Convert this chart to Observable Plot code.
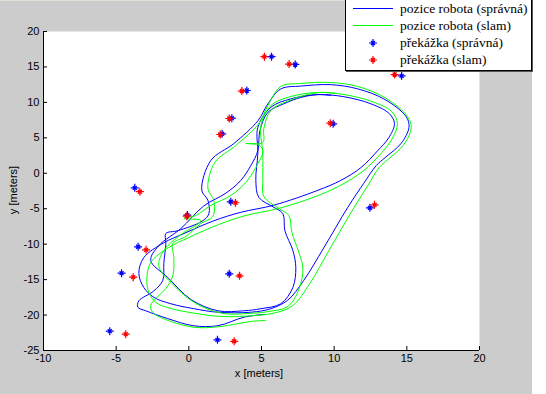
<!DOCTYPE html>
<html><head><meta charset="utf-8">
<script src="https://cdn.jsdelivr.net/npm/d3@7"></script>
<script src="https://cdn.jsdelivr.net/npm/@observablehq/plot@0.6"></script>
<style>
html,body{margin:0;padding:0;background:#fff;}
#fig{position:relative;width:546px;height:394px;overflow:hidden;background:linear-gradient(to right,#cccccc 0,#cccccc 532px,#ffffff 532px);}
#topline{position:absolute;left:0;top:0;width:532px;height:1px;background:#e4e0d8;}
#chart{position:absolute;left:0;top:0;}
.alab{position:absolute;font-family:"Liberation Sans",Arial,sans-serif;font-size:11px;color:#000;white-space:nowrap;transform:translate(-50%,-50%);}
#ylab{transform:translate(-50%,-50%) rotate(-90deg);}
#legend{position:absolute;left:345px;top:-1px;width:185px;height:70px;background:#fff;border:1px solid #000;box-shadow:1px 1px 0 #555;font-family:"Liberation Serif","Times New Roman",serif;font-size:13.5px;color:#000;}
.lrow{position:absolute;left:0;height:17px;width:185px;}
.lrow svg{position:absolute;left:0;top:0;}
.lrow span{position:absolute;left:54px;top:50%;transform:translateY(-50%);white-space:nowrap;}
</style>
</head><body>
<div id="fig"><div id="topline"></div><div id="chart"></div>
<div class="alab" id="xlab" style="left:259px;top:373px;"></div>
<div class="alab" id="ylab" style="left:13px;top:190px;"></div>
<div id="legend"></div>
</div>
<script>
// ---- data ----
const xTicks = [-10, -5, 0, 5, 10, 15, 20];
const yTicks = [-25, -20, -15, -10, -5, 0, 5, 10, 15, 20];
const xLabel = "x [meters]";
const yLabel = "y [meters]";
const legendLabels = ["pozice robota (správná)", "pozice robota (slam)", "překážka (správná)", "překážka (slam)"];

const obstacleTrueX = [5.69, 7.32, 3.99, 2.96, 2.29, -3.72, 2.89, -0.1, -3.49, -4.63, 2.78, -5.44, 1.97, 9.93, 14.64, 12.46];
const obstacleTrueY = [16.45, 15.35, 11.68, 7.77, 5.57, -2.05, -4.02, -5.9, -10.37, -14.09, -14.18, -22.27, -23.5, 6.98, 13.75, -4.87];
const obstacleSlamX = [5.2, 6.9, 3.65, 2.78, 2.16, -3.37, 3.21, -0.14, -2.94, -3.83, 3.49, -4.34, 3.12, 9.73, 14.16, 12.78];
const obstacleSlamY = [16.45, 15.4, 11.6, 7.73, 5.47, -2.6, -4.16, -6.05, -10.8, -14.65, -14.46, -22.7, -23.7, 7.07, 13.93, -4.45];

const pathTrue = [
[5.2,-19.9],[3.8,-20.3],[2.0,-21.5],[0.3,-21.5],[-1.45,-20.5],[-2.96,-19.4],[-3.51,-18.9],[-3.44,-18.0],[-2.41,-16.6],[-1.79,-15.1],[-1.72,-12.7],[-1.58,-9.9],[-1.58,-8.5],[-0.76,-8.1],[0.96,-6.7],[1.38,-5.7],[1.31,-3.8],[0.89,-2.4],[1.51,1.8],[3.1,4.2],[4.75,7.4],[5.44,9.8],[6.33,11.9],[7.71,12.3],[9.77,12.5],[11.63,11.9],[13.5,10.4],[14.95,8.0],[15.15,6.5],[14.6,4.2],[13.5,2.2],[12.9,1.1],[12.04,-1.4],[10.94,-4.8],[9.29,-10.5],[7.91,-15.1],[6.81,-17.9],[5.64,-19.1],
[4.27,-19.6],[2.0,-19.6],[0.34,-19.1],[-1.24,-18.4],[-2.41,-17.5],[-3.1,-16.1],[-3.44,-14.1],[-3.1,-11.9],[-1.72,-9.8],[-0.34,-8.5],[1.72,-6.7],[3.58,-5.5],[5.85,-4.5],[8.88,-2.4],[10.46,-1.0],[11.84,0.8],[13.0,3.2],[13.75,5.0],[14.15,7.0],[13.8,8.4],[12.53,9.8],[10.67,10.8],[8.88,11.1],[7.02,10.5],[5.64,9.3],[4.75,6.5],[4.75,2.8],[4.61,-1.0],[4.82,-3.4],[5.85,-4.8],[6.47,-5.7],[6.61,-8.1],[7.16,-10.9],[7.36,-13.3],[7.16,-16.1],[6.33,-18.4],[4.96,-19.1],
[3.79,-19.4],[2.0,-19.4],[0.14,-17.8],[-1.45,-14.7],[-2.62,-12.3],[-2.06,-10.2],[-0.55,-7.8],[1.03,-4.6],[2.55,-2.8],[3.58,-1.0],[4.27,1.1],[4.75,3.2],[4.89,6.0],[5.44,8.6],[6.54,9.8],[7.71,10.7],[8.88,11.1],[9.77,10.97]
];

const pathSlam = [
[5.30,-20.76],[4.27,-20.90],[2.20,-21.61],[0.48,-21.75],[-1.24,-20.90],[-2.48,-19.63],[-2.62,-18.65],[-2.27,-17.66],[-1.58,-16.25],[-1.10,-14.41],[-1.03,-12.01],[-1.10,-9.90],[-0.21,-8.91],[0.83,-7.08],[1.65,-6.09],[1.72,-3.84],[1.31,-2.14],[1.79,1.52],[3.23,3.92],[4.82,7.02],[5.44,9.56],[6.33,12.24],[7.71,12.67],[9.77,12.81],[11.63,12.24],[13.55,10.6],[15.05,8.0],[15.3,6.46],[14.8,4.06],[13.7,1.95],[13.1,0.82],[12.32,-1.72],[11.29,-5.10],[9.64,-10.89],[8.33,-15.54],[7.16,-18.65],[6.06,-19.63],
[4.61,-20.06],[2.20,-20.20],[0.48,-19.77],[-1.24,-19.07],[-2.27,-18.22],[-2.75,-16.81],[-2.89,-14.84],[-2.62,-12.58],[-1.38,-10.47],[0,-9.06],[2.06,-7.22],[3.92,-5.95],[6.19,-4.96],[9.08,-2.99],[10.67,-1.44],[12.04,0.39],[13.28,2.93],[14.0,4.91],[14.35,7.02],[13.95,8.72],[12.59,10.13],[10.67,11.11],[8.88,11.40],[7.02,10.83],[5.64,9.56],[4.96,6.74],[5.09,2.79],[5.09,-1.02],[5.16,-3.27],[6.19,-4.96],[6.88,-5.95],[7.09,-8.35],[7.57,-11.17],[7.85,-13.42],[7.57,-16.39],[6.81,-18.79],[5.51,-19.49],
[4.13,-19.77],[2.34,-19.77],[0.48,-18.36],[-1.10,-15.68],[-2.06,-13.15],[-1.72,-10.89],[-0.34,-8.35],[0.14,-7.79],[0.83,-6.66],[-0.34,-6.37],[0.48,-5.95],[1.51,-4.54],[2.89,-3.13],[3.92,-1.30],[4.61,0.82],[5.09,3.22],[4.75,4.06],[3.92,4.20],[5.09,4.34],[5.16,6.32],[5.64,8.86],[6.74,10.13],[7.91,10.97],[9.08,11.40],[10.12,11.26]
];

// ---- drawing ----
const BLUE = "#0000ff", GREEN = "#00ff00", RED = "#ff0000";
const W = 546, H = 394;
const mL = 43, mR = 67, mT = 31, mB = 44;
const pxPerY = (H - mT - mB) / (yTicks[yTicks.length-1] - yTicks[0]);
const pxPerX = (W - mL - mR) / (xTicks[xTicks.length-1] - xTicks[0]);
const tickLen = 4;

const star = {
  draw(ctx, size) {
    const r = Math.sqrt(size / Math.PI);
    const d = r * 0.5;
    ctx.moveTo(-r, 0); ctx.lineTo(r, 0);
    ctx.moveTo(0, -r); ctx.lineTo(0, r);
    ctx.moveTo(-d, -d); ctx.lineTo(d, d);
    ctx.moveTo(-d, d); ctx.lineTo(d, -d);
  }
};
const idx = d3.range(obstacleTrueX.length);

const chart = Plot.plot({
  width: W, height: H,
  marginLeft: mL, marginRight: mR, marginTop: mT, marginBottom: mB,
  x: {domain: [xTicks[0], xTicks[xTicks.length-1]]},
  y: {domain: [yTicks[0], yTicks[yTicks.length-1]]},
  style: {background: "transparent", fontFamily: "'Liberation Sans', Arial, sans-serif", fontSize: "11px", color: "#000"},
  marks: [
    Plot.frame({fill: "white", stroke: "none"}),
    Plot.line(pathTrue, {x: d => d[0], y: d => d[1], stroke: BLUE, strokeWidth: 1, curve: "catmull-rom"}),
    Plot.line(pathSlam, {x: d => d[0], y: d => d[1], stroke: GREEN, strokeWidth: 1, curve: "catmull-rom"}),
    Plot.dot(idx, {x: i => obstacleTrueX[i], y: i => obstacleTrueY[i], symbol: star, r: 4, stroke: BLUE, fill: "none", strokeWidth: 1.2}),
    Plot.dot(idx, {x: i => obstacleSlamX[i], y: i => obstacleSlamY[i], symbol: star, r: 4, stroke: RED, fill: "none", strokeWidth: 1.2}),
    Plot.ruleX([xTicks[0]], {stroke: "#000"}),
    Plot.ruleY([yTicks[0]], {stroke: "#000"}),
    Plot.ruleX(xTicks, {y1: yTicks[0], y2: yTicks[0] + tickLen / pxPerY, stroke: "#000"}),
    Plot.ruleY(yTicks, {x1: xTicks[0], x2: xTicks[0] + tickLen / pxPerX, stroke: "#000"}),
    Plot.axisX(xTicks, {tickSize: 0, tickPadding: 4, label: null, tickFormat: d => String(d)}),
    Plot.axisY(yTicks, {tickSize: 0, tickPadding: 4, label: null, tickFormat: d => String(d)})
  ]
});
document.getElementById("chart").appendChild(chart);
document.getElementById("xlab").textContent = xLabel;
document.getElementById("ylab").textContent = yLabel;

// legend
const leg = document.getElementById("legend");
const rowTops = [0, 17, 34, 51];
const kinds = [["line", BLUE], ["line", GREEN], ["star", BLUE], ["star", RED]];
legendLabels.forEach((lab, i) => {
  const row = document.createElement("div");
  row.className = "lrow";
  row.style.top = rowTops[i] + "px";
  const svg = d3.create("svg").attr("width", 54).attr("height", 17);
  if (kinds[i][0] === "line") {
    svg.append("line").attr("x1", 7).attr("x2", 47).attr("y1", 8.5).attr("y2", 8.5).attr("stroke", kinds[i][1]).attr("stroke-width", 1);
  } else {
    svg.append("path").attr("transform", "translate(27,9)").attr("d", d3.symbol(star, Math.PI * 16)()).attr("stroke", kinds[i][1]).attr("fill", "none").attr("stroke-width", 1.2);
  }
  row.appendChild(svg.node());
  const sp = document.createElement("span");
  sp.textContent = lab;
  row.appendChild(sp);
  leg.appendChild(row);
});
</script>
</body></html>
